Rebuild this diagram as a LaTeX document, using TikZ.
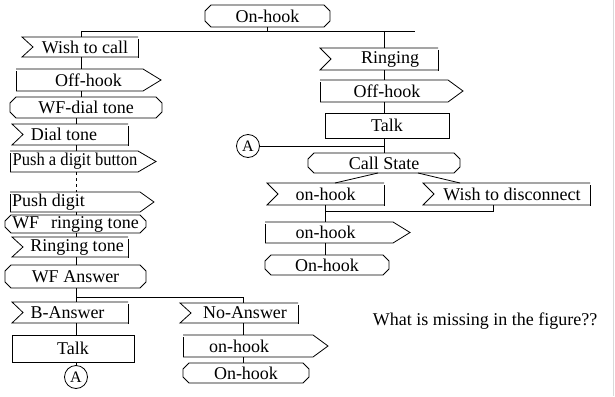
\documentclass[tikz,border=0pt]{standalone}
\usepackage{fontspec}
\setmainfont{Liberation Serif}

% SDL symbols, all drawn in a coordinate system of 1pt with y pointing down.
% state: #1 name, #2 x1, #3 y1, #4 x2, #5 y2, #6 text
\newcommand\SdlState[6]{%
  \node[body, minimum width={(#4-#2)*1pt}, minimum height={(#5-#3)*1pt}] (#1) at ({(#2+#4)/2},{(#3+#5)/2}) {#6};
  \draw[sdl] (#2+6,#3) -- (#4-6,#3) -- (#4,#3+6) -- (#4,#5-6) -- (#4-6,#5) -- (#2+6,#5) -- (#2,#5-6) -- (#2,#3+6) -- cycle;}
% input signal: #1 name, #2 x1, #3 y1, #4 x2, #5 y2, #6 text offset, #7 text
\newcommand\SdlInput[7]{%
  \node[body, minimum width={(#4-#2)*1pt}, minimum height={(#5-#3)*1pt}] (#1) at ({(#2+#4)/2},{(#3+#5)/2}) {\hspace*{#6pt}#7};
  \draw[sdl] (#4,#3) -- (#2,#3) -- (#2+11,{(#3+#5)/2}) -- (#2,#5) -- (#4,#5);
  \draw[sdl] (#4,#3+2) -- (#4,#5+1);}
% output signal: #1 name, #2 x1, #3 y1, #4 end of body, #5 tip, #6 y2, #7 text offset, #8 text
\newcommand\SdlOutput[8]{%
  \node[body, minimum width={(#5-#2)*1pt}, minimum height={(#6-#3)*1pt}] (#1) at ({(#2+#5)/2},{(#3+#6)/2}) {\hspace*{#7pt}#8};
  \draw[sdl] (#2,#3+2) -- (#2,#6);
  \draw[sdl] (#2,#3) -- (#4,#3) -- (#5,{(#3+#6)/2}) -- (#4,#6) -- (#2,#6);}
% task: #1 name, #2 x1, #3 y1, #4 x2, #5 y2, #6 text
\newcommand\SdlTask[6]{%
  \node[body, sdl, draw, minimum width={(#4-#2)*1pt}, minimum height={(#5-#3)*1pt}] (#1) at ({(#2+#4)/2},{(#3+#5)/2}) {#6};}

\begin{document}
\begin{tikzpicture}[x=1pt,y=-1pt,
  sdl/.style={line width=0.8pt, line join=miter},
  link/.style={line width=0.8pt},
  body/.style={inner sep=0pt, outer sep=0pt, font=\fontsize{18}{20}\selectfont},
  joint/.style={body, sdl, draw, circle, minimum size=23pt, font=\fontsize{16}{18}\selectfont}]
\useasboundingbox (0,0) rectangle (615,396);
% thin frame line on the right edge
\draw[gray!30, line width=1pt] (613.5,0) -- (613.5,396);

% ---- caller side ----
\SdlState{onhookTop}{205}{5}{330}{27}{On-hook}
\SdlInput{wish}{22}{37}{138}{57}{10}{Wish to call}
\SdlOutput{offL}{16}{69}{143}{161}{91}{0}{Off-hook}
\SdlState{wfdial}{10}{97}{162}{118}{WF-dial tone}
\SdlInput{dial}{12}{124}{128}{145}{-12}{Dial tone}
\SdlOutput{pushbtn}{10}{151}{138}{156}{172}{-16}{\scalebox{0.92}[1]{Push a digit button}}
\SdlOutput{pushdig}{10}{192}{140}{154}{212}{-67}{Push digit}
\SdlState{wfring}{5}{215}{146}{233}{WF\hspace{12pt}ringing tone}
\SdlInput{ringtone}{12}{237}{128}{257}{14}{Ringing tone}
\SdlState{wfans}{5}{265}{146}{288}{WF Answer}
\SdlInput{banswer}{12}{302}{128}{323}{-5}{B-Answer}
\SdlTask{talkL}{12}{335}{134}{362}{Talk}
\node[joint] (AL) at (76,377) {A};
\SdlInput{noanswer}{180}{303}{298}{323}{12}{No-Answer}
\SdlOutput{onhookOutB}{183}{335}{313}{328}{357}{-33}{on-hook}
\SdlState{onhookB}{183}{363}{309}{383}{On-hook}

% ---- called side ----
\SdlInput{ringing}{320}{48}{438}{70}{22}{Ringing}
\SdlOutput{offR}{320}{80}{448}{463}{102}{-9}{Off-hook}
\SdlTask{talkR}{325}{113}{449}{138}{Talk}
\node[joint] (AR) at (248,146) {A};
\SdlState{callst}{308}{153}{460}{173}{Call State}
\SdlInput{onhookIn}{267}{183}{384}{205}{0}{on-hook}
\SdlInput{wishdisc}{423}{183}{590}{205}{11}{Wish to disconnect}
\SdlOutput{onhookOut}{265}{222}{393}{410}{243}{-24}{on-hook}
\SdlState{onhookR}{265}{255}{389}{275}{On-hook}

\node[body] (question) at (485,321) {What is missing in the figure??};

% ---- flow lines ----
\coordinate (j0) at (81,31);
\coordinate (j1) at (415,31);
\coordinate (k) at (76,0);
\coordinate (r) at (384,31);
\coordinate (j2) at (76,297);
\coordinate (j3) at (243,297);
\coordinate (s1) at (335,0);
\coordinate (s2) at (460,0);
\coordinate (m1) at (325,211);
\coordinate (m2) at (493,211);

\draw[link] (onhookTop.south) -- (onhookTop.south |- j0);
\draw[link] (j0) -- (j1);
\draw[link] (j0) -- (wish.north -| j0);
\draw[link] (wish.south -| j0) -- (offL.north -| j0);
\draw[link] (offL.south -| j0) -- (wfdial.north -| j0);
\draw[link] (wfdial.south -| k) -- (dial.north -| k);
\draw[link] (dial.south -| k) -- (pushbtn.north -| k);
\draw[link, dashed] (pushbtn.south -| k) -- (pushdig.north -| k);
\draw[link] (pushdig.south -| k) -- (wfring.north -| k);
\draw[link] (wfring.south -| k) -- (ringtone.north -| k);
\draw[link] (ringtone.south -| k) -- (wfans.north -| k);
\draw[link] (wfans.south -| k) -- (banswer.north -| k);
\draw[link] (j2) -- (j3) -- (noanswer.north -| j3);
\draw[link] (banswer.south -| k) -- (talkL.north -| k);
\draw[link] (talkL.south -| k) -- (AL.north);
\draw[link] (noanswer.south -| j3) -- (onhookOutB.north -| j3);
\draw[link] (onhookOutB.south -| j3) -- (onhookB.north -| j3);

\draw[link] (r) -- (ringing.north -| r);
\draw[link] (ringing.south -| r) -- (offR.north -| r);
\draw[link] (offR.south -| r) -- (talkR.north -| r);
\draw[link] (talkR.south -| r) -- (callst.north -| r);
\draw[link] (AR.east) -- (AR.east -| r);
\draw[link] ([xshift=-6pt]callst.south) -- (onhookIn.north -| s1);
\draw[link] ([xshift=34pt]callst.south) -- (wishdisc.north -| s2);
\draw[link] (onhookIn.south -| m1) -- (onhookOut.north -| m1);
\draw[link] (m1) -- (m2) -- (wishdisc.south -| m2);
\draw[link] (onhookOut.south -| m1) -- (onhookR.north -| m1);
\end{tikzpicture}
\end{document}
